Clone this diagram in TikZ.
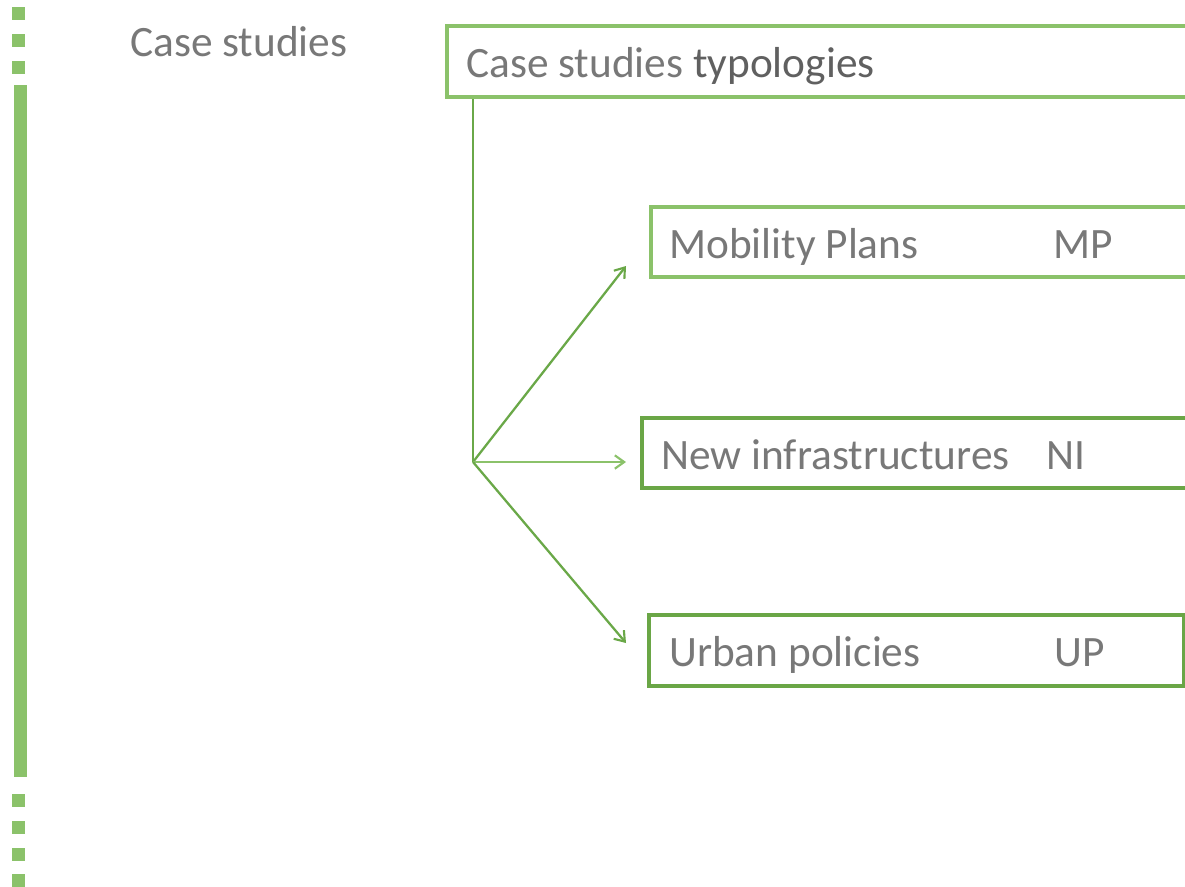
\documentclass[tikz,border=0pt]{standalone}
\usepackage{fontspec}
\setmainfont{Carlito}
\usetikzlibrary{arrows.meta}
\definecolor{lightg}{RGB}{139,194,106}
\definecolor{darkg}{RGB}{106,166,70}
\definecolor{lineg}{RGB}{106,168,72}
\definecolor{greyt}{RGB}{120,120,120}
\definecolor{greyd}{RGB}{96,96,96}
\tikzset{
  px/.style={x=0.75pt,y=-0.75pt},
  boxlight/.style={draw=lightg,line width=3pt,fill=white,inner sep=0pt},
  boxdark/.style={draw=darkg,line width=3pt,fill=white,inner sep=0pt},
  lbl/.style={anchor=base west,inner sep=0pt,text=greyt,font=\fontsize{32.5}{36}\selectfont},
  conn/.style={lineg,line width=1.7pt},
  arr/.style={conn,-{Straight Barb[length=7pt,width=10pt,line width=1.6pt]}},
  sq/.style={fill=lightg,draw=none},
}
\begin{document}
\begin{tikzpicture}[px]
\useasboundingbox (0,0) rectangle (1185,886);
\clip (0,0) rectangle (1185,886);
\fill[white] (0,0) rectangle (1185,886);
% left dashed marker
\foreach \y in {7,34,61} \fill[sq] (12,\y) rectangle (25,\y+13);
\fill[sq] (14,85) rectangle (27,777);
\foreach \y in {794,821,848,874} \fill[sq] (12,\y) rectangle (25,\y+13);
% title
\node[lbl] (title) at (130,56) {Case studies};
% boxes
\node[boxlight,minimum width=800*0.75pt,minimum height=71*0.75pt,anchor=north west] (tb) at (445,24) {};
\node[boxlight,minimum width=600*0.75pt,minimum height=70*0.75pt,anchor=north west] (mp) at (649,205) {};
\node[boxdark,minimum width=600*0.75pt,minimum height=70*0.75pt,anchor=north west] (ni) at (640,416) {};
\node[boxdark,minimum width=535*0.75pt,minimum height=71*0.75pt,anchor=north west] (up) at (647,613) {};
% texts
\node[lbl,text=greyt] (tbt) at (466,77) {Case studies \textcolor{greyd}{typologies}};
\node[lbl] (mpt) at (669,258) {Mobility Plans};
\node[lbl] (mpa) at (1053,258) {MP};
\node[lbl] (nit) at (661,469) {New infrastructures};
\node[lbl] (nia) at (1046,469) {NI};
\node[lbl] (upt) at (669,666) {Urban policies};
\node[lbl] (upa) at (1054,666) {UP};
% connectors
\coordinate (br) at (473,462);
\coordinate (emp) at (626,266);
\coordinate (eni) at (626,462);
\coordinate (eup) at (626,643);
\draw[conn,line width=1.5pt] (br |- tb.south) -- (br);
\draw[arr] (br) -- (emp);
\draw[arr,draw=lightg,line width=2.2pt] (br) -- (eni);
\draw[arr] (br) -- (eup);
\end{tikzpicture}
\end{document}
